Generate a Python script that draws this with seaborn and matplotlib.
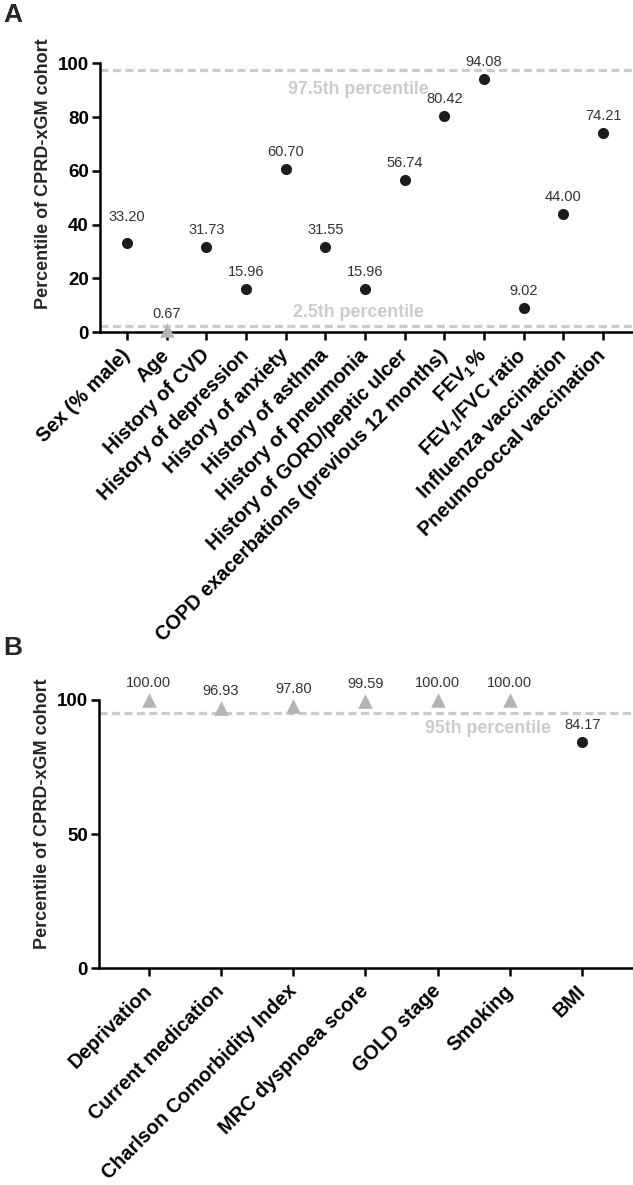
import matplotlib
matplotlib.use("Agg")
import matplotlib.pyplot as plt
import seaborn as sns
import pandas as pd

# ---------------- data ----------------
cats_a = [
    "Sex (% male)", "Age", "History of CVD", "History of depression",
    "History of anxiety", "History of asthma", "History of pneumonia",
    "History of GORD/peptic ulcer", "COPD exacerbations (previous 12 months)",
    "FEV$_1$%", "FEV$_1$/FVC ratio", "Influenza vaccination",
    "Pneumococcal vaccination",
]
vals_a = [33.20, 0.67, 31.73, 15.96, 60.70, 31.55, 15.96, 56.74, 80.42,
          94.08, 9.02, 44.00, 74.21]
beyond_a = [False, True, False, False, False, False, False, False, False,
            False, False, False, False]
band_a = [2.5, 97.5]
band_labels_a = ["2.5th percentile", "97.5th percentile"]
yticks_a = [0, 20, 40, 60, 80, 100]

cats_b = ["Deprivation", "Current medication", "Charlson Comorbidity Index",
          "MRC dyspnoea score", "GOLD stage", "Smoking", "BMI"]
vals_b = [100.00, 96.93, 97.80, 99.59, 100.00, 100.00, 84.17]
beyond_b = [True, True, True, True, True, True, False]
band_b = [95]
band_labels_b = ["95th percentile"]
yticks_b = [0, 50, 100]

ylabel = "Percentile of CPRD-xGM cohort"

# ---------------- style ----------------
sns.set_theme(style="ticks")
plt.rcParams["font.family"] = ["Liberation Sans", "DejaVu Sans"]
plt.rcParams["mathtext.fontset"] = "custom"
plt.rcParams["mathtext.rm"] = "Liberation Sans:bold"
plt.rcParams["mathtext.bf"] = "Liberation Sans:bold"
plt.rcParams["mathtext.it"] = "Liberation Sans:bold"
plt.rcParams["mathtext.default"] = "bf"

DOT = "#1c1c1c"
TRI = "#b4b4b4"
BAND = "#cbcbcb"
VALTXT = "#333333"

fig = plt.figure(figsize=(6.33, 11.85), dpi=100)
axA = fig.add_axes([0.158, 0.7196, 0.8404, 0.2270])
axB = fig.add_axes([0.1564, 0.1831, 0.8420, 0.2262])


def panel(ax, cats, vals, beyond, bands, band_labels, band_label_pos,
          yticks, xlim, label_y, nudges):
    df = pd.DataFrame({"cat": cats, "val": vals, "beyond": beyond})
    for y in bands:
        ax.axhline(y, color=BAND, lw=2.3, ls=(0, (2.5, 1.4)), zorder=1)
    sns.stripplot(data=df[~df["beyond"]], x="cat", y="val", order=cats,
                  jitter=False, color=DOT, size=8, marker="o", linewidth=0,
                  ax=ax, zorder=5)
    sns.stripplot(data=df[df["beyond"]], x="cat", y="val", order=cats,
                  jitter=False, color=TRI, size=10.5, marker="^", linewidth=0,
                  ax=ax, zorder=5)
    for c in ax.collections:
        c.set_clip_on(False)
    for i, v in enumerate(vals):
        ax.annotate(f"{v:.2f}", xy=(i, v),
                    xytext=(0, 12.2 + nudges.get(i, 0)),
                    textcoords="offset points", ha="center", va="center",
                    fontsize=10.5, color=VALTXT, annotation_clip=False,
                    zorder=6)
    for (bx, by), t in zip(band_label_pos, band_labels):
        ax.text(bx, by, t, ha="center", va="center", fontsize=12.8,
                fontweight="bold", color=BAND, zorder=2)
    ax.set_xlim(*xlim)
    ax.set_ylim(0, 100)
    ax.set_yticks(yticks)
    ax.set_yticklabels([str(t) for t in yticks], fontsize=13.5,
                       fontweight="bold")
    ax.set_xticks(range(len(cats)))
    ax.set_xticklabels(cats, rotation=45, ha="right", va="center",
                       rotation_mode="anchor", fontsize=14.3,
                       fontweight="bold")
    ax.set_xlabel("")
    ax.set_ylabel(ylabel, fontsize=13, fontweight="bold")
    ax.yaxis.set_label_coords(-0.09, label_y)
    sns.despine(ax=ax)
    for s in ["left", "bottom"]:
        ax.spines[s].set_linewidth(1.8)
        ax.spines[s].set_color("black")
    ax.tick_params(axis="both", width=1.8, length=6, color="black",
                   labelcolor="black")
    ax.tick_params(axis="x", pad=8.5)
    ax.tick_params(axis="y", pad=2)
    ax.grid(False)


panel(axA, cats_a, vals_a, beyond_a, band_a, band_labels_a,
      [(5.83, 7.5), (5.83, 90.3)], yticks_a, (-0.68, 12.73), 0.59, {0: 6.5})
panel(axB, cats_b, vals_b, beyond_b, band_b, band_labels_b,
      [(4.69, 89.2)], yticks_b, (-0.69, 6.69), 0.575, {})

fig.text(0.005, 1 - 3 / 1185, "A", ha="left", va="top", fontsize=19,
         fontweight="bold")
fig.text(0.005, 1 - 636 / 1185, "B", ha="left", va="top", fontsize=19,
         fontweight="bold")

fig.savefig("out.png", dpi=100)
